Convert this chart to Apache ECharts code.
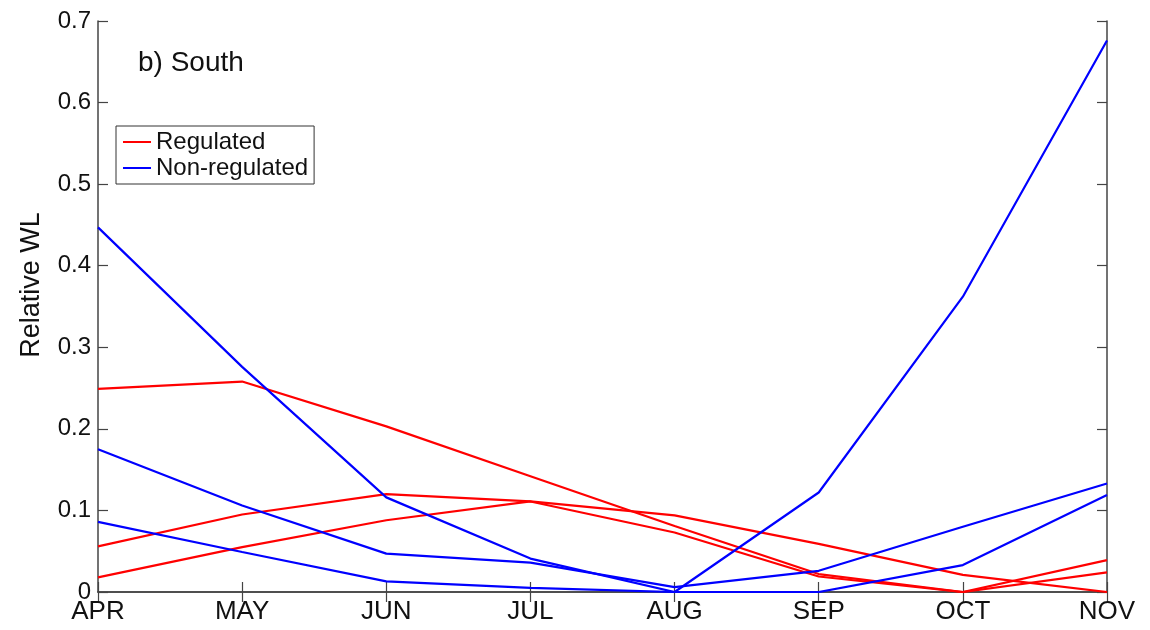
<!DOCTYPE html>
<html>
<head>
<meta charset="utf-8">
<script src="https://cdn.jsdelivr.net/npm/echarts@6/dist/echarts.min.js"></script>
<style>
html,body{margin:0;padding:0;background:#fff;}
#chart{width:1150px;height:630px;}
</style>
</head>
<body>
<div id="chart"></div>
<script>
const months = ['APR','MAY','JUN','JUL','AUG','SEP','OCT','NOV'];
const yTicks = [0, 0.1, 0.2, 0.3, 0.4, 0.5, 0.6, 0.7];

const regulatedA = [0.249, 0.258, 0.203, 0.142, 0.081, 0.022, 0.000, 0.039];
const regulatedB = [0.056, 0.095, 0.120, 0.111, 0.094, 0.059, 0.021, 0.000];
const regulatedC = [0.018, 0.055, 0.088, 0.111, 0.073, 0.019, 0.000, 0.024];

const nonRegulatedA = [0.447, 0.276, 0.116, 0.041, 0.000, 0.122, 0.362, 0.676];
const nonRegulatedB = [0.175, 0.106, 0.047, 0.036, 0.006, 0.026, 0.080, 0.133];
const nonRegulatedC = [0.086, 0.049, 0.013, 0.005, 0.000, 0.000, 0.033, 0.119];

const FONT = 'Liberation Sans, Arial, Helvetica, sans-serif';
const AXIS_COLOR = '#444';
const RED = '#ff0000';
const BLUE = '#0000ff';

function lineSeries(name, data, color) {
  return {
    name: name,
    type: 'line',
    data: data,
    xAxisIndex: 0,
    yAxisIndex: 0,
    symbol: 'none',
    smooth: false,
    lineStyle: { color: color, width: 2.2 },
    itemStyle: { color: color },
    emphasis: { disabled: true },
    animation: false
  };
}

const chart = echarts.init(document.getElementById('chart'), null, { renderer: 'canvas' });
chart.setOption({
  animation: false,
  backgroundColor: '#fff',
  title: {
    text: 'b) South',
    left: 138,
    top: 49,
    padding: 0,
    textStyle: { fontFamily: FONT, fontSize: 28, fontWeight: 'normal', color: '#111' }
  },
  legend: {
    data: ['Regulated', 'Non-regulated'],
    orient: 'vertical',
    left: 116,
    top: 126,
    padding: [4, 6, 4, 7],
    itemGap: 2,
    itemWidth: 28,
    itemHeight: 2,
    itemTextGap: 3,
    icon: 'rect',
    borderColor: '#333',
    borderWidth: 1,
    backgroundColor: '#fff',
    selectedMode: false,
    textStyle: { fontFamily: FONT, fontSize: 24, color: '#111' }
  },
  grid: { left: 98, right: 43, top: 21, bottom: 38, containLabel: false },
  xAxis: [
    {
      type: 'category',
      data: months,
      boundaryGap: false,
      position: 'bottom',
      axisLine: { show: true, lineStyle: { color: AXIS_COLOR, width: 1.5 } },
      axisTick: { show: true, inside: true, length: 10, alignWithLabel: true, lineStyle: { color: AXIS_COLOR, width: 1.2 } },
      axisLabel: { fontFamily: FONT, fontSize: 26, color: '#111', margin: 7 },
      splitLine: { show: false }
    },
    {
      type: 'category',
      data: months,
      boundaryGap: false,
      position: 'top',
      axisLine: { show: true, lineStyle: { color: AXIS_COLOR, width: 1.5 } },
      axisTick: { show: true, inside: true, length: 10, lineStyle: { color: AXIS_COLOR, width: 1.2 } },
      axisLabel: { show: false },
      splitLine: { show: false }
    }
  ],
  yAxis: [
    {
      type: 'value',
      min: 0,
      max: 0.7,
      interval: 0.1,
      position: 'left',
      axisLine: { show: true, lineStyle: { color: AXIS_COLOR, width: 1.5 } },
      axisTick: { show: true, inside: true, length: 10, lineStyle: { color: AXIS_COLOR, width: 1.2 } },
      axisLabel: {
        fontFamily: FONT, fontSize: 24, color: '#111', margin: 7,
        formatter: function (v) {
          const t = yTicks.find(function (k) { return Math.abs(k - v) < 1e-9; });
          return t === undefined ? '' : String(t);
        }
      },
      splitLine: { show: false }
    },
    {
      type: 'value',
      min: 0,
      max: 0.7,
      interval: 0.1,
      position: 'right',
      axisLine: { show: true, lineStyle: { color: AXIS_COLOR, width: 1.5 } },
      axisTick: { show: true, inside: true, length: 10, lineStyle: { color: AXIS_COLOR, width: 1.2 } },
      axisLabel: { show: false },
      splitLine: { show: false }
    }
  ],
  graphic: [
    {
      type: 'text',
      x: 32,
      y: 285,
      rotation: Math.PI / 2,
      style: {
        text: 'Relative WL',
        fontFamily: FONT,
        fontSize: 27,
        fill: '#111',
        align: 'center',
        verticalAlign: 'middle'
      }
    }
  ],
  series: [
    lineSeries('Regulated', regulatedA, RED),
    lineSeries('Regulated', regulatedB, RED),
    lineSeries('Regulated', regulatedC, RED),
    lineSeries('Non-regulated', nonRegulatedA, BLUE),
    lineSeries('Non-regulated', nonRegulatedB, BLUE),
    lineSeries('Non-regulated', nonRegulatedC, BLUE)
  ]
});
</script>
</body>
</html>
